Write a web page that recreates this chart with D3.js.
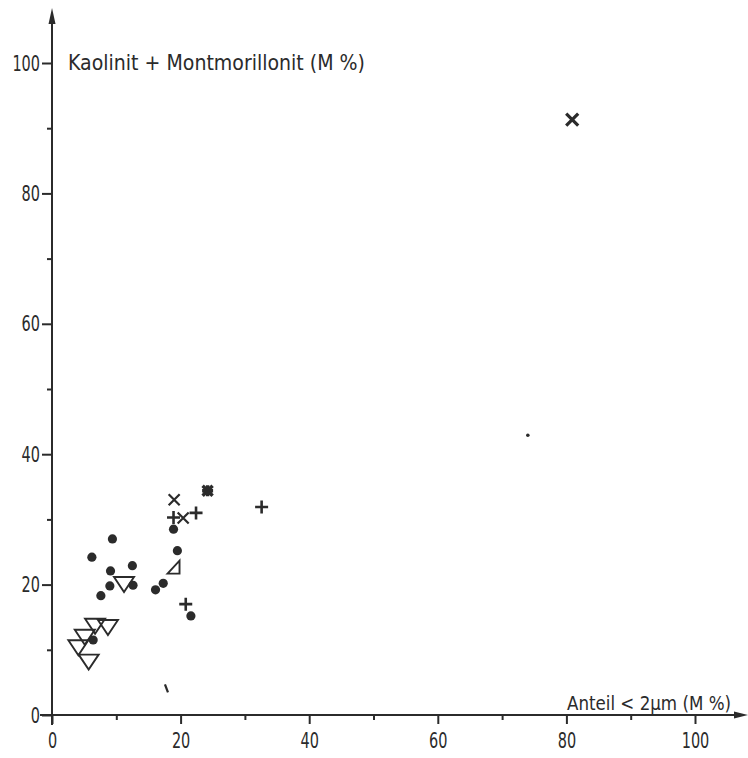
<!DOCTYPE html>
<html>
<head>
<meta charset="utf-8">
<script src="https://cdn.jsdelivr.net/npm/d3@7/dist/d3.min.js"></script>
<style>
  html, body { margin: 0; padding: 0; background: #fff; }
  svg { display: block; }
  text { font-family: "DejaVu Sans Condensed", "Liberation Sans", sans-serif; fill: #2b2b2b; }
</style>
</head>
<body>
<svg id="chart" width="748" height="758"></svg>
<script>
// Axis ticks
const majorTicks = [0, 20, 40, 60, 80, 100];
const minorTicks = [10, 30, 50, 70, 90];

// Samples: [Anteil < 2 µm, Kaolinit + Montmorillonit] in M %
const circleSamples = [
  [18.9, 28.5], [19.5, 25.2], [9.4, 27.0], [6.2, 24.2], [9.1, 22.1],
  [12.5, 22.9], [9.0, 19.8], [12.6, 19.9], [7.6, 18.3], [16.1, 19.2],
  [17.3, 20.2], [21.6, 15.2], [6.4, 11.5]
];
const plusSamples = [
  [18.9, 30.3], [22.4, 31.0], [32.6, 31.9], [20.8, 17.0]
];
const crossSamples = [
  [19.0, 33.0], [20.4, 30.2]
];
const crossLargeSamples = [
  [80.9, 91.3]
];
const starSamples = [
  [24.2, 34.4]
];
const triangleDownSamples = [
  [11.2, 20.4], [6.7, 14.0], [8.7, 13.8], [5.1, 12.3], [4.1, 10.7], [5.7, 8.5]
];
const triangleRightSamples = [
  [18.9, 22.6]
];
const speckSamples = [
  [74.0, 42.9]
];
const dashSamples = [
  [17.8, 4.1]
];

const ink = "#2b2b2b";
const svg = d3.select("#chart");

const x = d3.scaleLinear().domain([0, 100]).range([52, 695]);
const y = d3.scaleLinear().domain([0, 100]).range([715, 63]);

// ----- axes -----
const axisG = svg.append("g");

// axis lines with arrow heads
axisG.append("line")
  .attr("x1", x(0) - 12).attr("y1", y(0))
  .attr("x2", 738).attr("y2", y(0))
  .attr("stroke", ink).attr("stroke-width", 2);
axisG.append("path")
  .attr("d", `M748,${y(0)} L734,${y(0) - 3.5} L734,${y(0) + 3.5} Z`)
  .attr("fill", ink);

axisG.append("line")
  .attr("x1", x(0)).attr("y1", y(0) + 10)
  .attr("x2", x(0)).attr("y2", 22)
  .attr("stroke", ink).attr("stroke-width", 2);
axisG.append("path")
  .attr("d", `M${x(0)},8 L${x(0) - 3.5},24 L${x(0) + 3.5},24 Z`)
  .attr("fill", ink);

// x ticks (drawn below the axis)
const xMajor = svg.append("g").attr("transform", `translate(0,${y(0)})`)
  .call(d3.axisBottom(x).tickValues(majorTicks).tickSize(9).tickPadding(8).tickFormat(d3.format("d")));
const xMinor = svg.append("g").attr("transform", `translate(0,${y(0)})`)
  .call(d3.axisBottom(x).tickValues(minorTicks).tickSize(5).tickFormat(""));

// y ticks (drawn left of the axis)
const yMajor = svg.append("g").attr("transform", `translate(${x(0)},0)`)
  .call(d3.axisLeft(y).tickValues(majorTicks).tickSize(10).tickPadding(2).tickFormat(d3.format("d")));
const yMinor = svg.append("g").attr("transform", `translate(${x(0)},0)`)
  .call(d3.axisLeft(y).tickValues(minorTicks).tickSize(5).tickFormat(""));

[xMajor, xMinor, yMajor, yMinor].forEach(g => {
  g.select(".domain").remove();
  g.selectAll(".tick line").attr("stroke", ink).attr("stroke-width", 2);
  g.selectAll(".tick text")
    .attr("font-size", 22).attr("fill", ink)
    .style("font-family", '"DejaVu Sans Condensed", sans-serif')
    .attr("textLength", function () { return 9.2 * this.textContent.length; })
    .attr("lengthAdjust", "spacingAndGlyphs");
});
xMajor.selectAll(".tick text").attr("dy", "0.71em");

// ----- axis titles -----
svg.append("text")
  .attr("x", 68).attr("y", 70)
  .attr("font-size", 21)
  .attr("textLength", 297).attr("lengthAdjust", "spacingAndGlyphs")
  .text("Kaolinit + Montmorillonit (M %)");

svg.append("text")
  .attr("x", 567).attr("y", 710)
  .attr("font-size", 19)
  .attr("textLength", 164).attr("lengthAdjust", "spacingAndGlyphs")
  .text("Anteil < 2µm (M %)");

// ----- marks -----
const marks = svg.append("g");

marks.selectAll("circle.sample")
  .data(circleSamples).join("circle")
  .attr("class", "sample")
  .attr("cx", d => x(d[0])).attr("cy", d => y(d[1]))
  .attr("r", 4.6).attr("fill", ink);

const plusPath = h => `M${-h},0 L${h},0 M0,${-h} L0,${h}`;
const crossPath = h => `M${-h},${-h} L${h},${h} M${-h},${h} L${h},${-h}`;

marks.selectAll("path.plus")
  .data(plusSamples).join("path")
  .attr("class", "plus")
  .attr("transform", d => `translate(${x(d[0])},${y(d[1])})`)
  .attr("d", plusPath(6.5))
  .attr("stroke", ink).attr("stroke-width", 2.6).attr("fill", "none");

marks.selectAll("path.cross")
  .data(crossSamples).join("path")
  .attr("class", "cross")
  .attr("transform", d => `translate(${x(d[0])},${y(d[1])})`)
  .attr("d", crossPath(5.5))
  .attr("stroke", ink).attr("stroke-width", 2.2).attr("fill", "none");

marks.selectAll("path.crossLarge")
  .data(crossLargeSamples).join("path")
  .attr("class", "crossLarge")
  .attr("transform", d => `translate(${x(d[0])},${y(d[1])})`)
  .attr("d", crossPath(6))
  .attr("stroke", ink).attr("stroke-width", 3.2).attr("fill", "none");

marks.selectAll("path.star")
  .data(starSamples).join("path")
  .attr("class", "star")
  .attr("transform", d => `translate(${x(d[0])},${y(d[1])})`)
  .attr("d", crossPath(5) + " " + plusPath(5.5))
  .attr("stroke", ink).attr("stroke-width", 3.4).attr("fill", "none");

// open downward triangles, anchored on their centroid
const tw = 10, th = 15;
marks.selectAll("path.triDown")
  .data(triangleDownSamples).join("path")
  .attr("class", "triDown")
  .attr("transform", d => `translate(${x(d[0])},${y(d[1])})`)
  .attr("d", `M${-tw},${-th / 3} L${tw},${-th / 3} L0,${2 * th / 3} Z`)
  .attr("stroke", ink).attr("stroke-width", 1.9).attr("fill", "none")
  .attr("stroke-linejoin", "miter");

marks.selectAll("path.triRight")
  .data(triangleRightSamples).join("path")
  .attr("class", "triRight")
  .attr("transform", d => `translate(${x(d[0])},${y(d[1])})`)
  .attr("d", "M-6,6 L6,-7 L6,6 Z")
  .attr("stroke", ink).attr("stroke-width", 1.9).attr("fill", "none");

marks.selectAll("circle.speck")
  .data(speckSamples).join("circle")
  .attr("class", "speck")
  .attr("cx", d => x(d[0])).attr("cy", d => y(d[1]))
  .attr("r", 1.8).attr("fill", ink);

marks.selectAll("path.dash")
  .data(dashSamples).join("path")
  .attr("class", "dash")
  .attr("transform", d => `translate(${x(d[0])},${y(d[1])})`)
  .attr("d", "M-1.5,-4 L1.5,4")
  .attr("stroke", ink).attr("stroke-width", 2.2).attr("fill", "none");
</script>
</body>
</html>
